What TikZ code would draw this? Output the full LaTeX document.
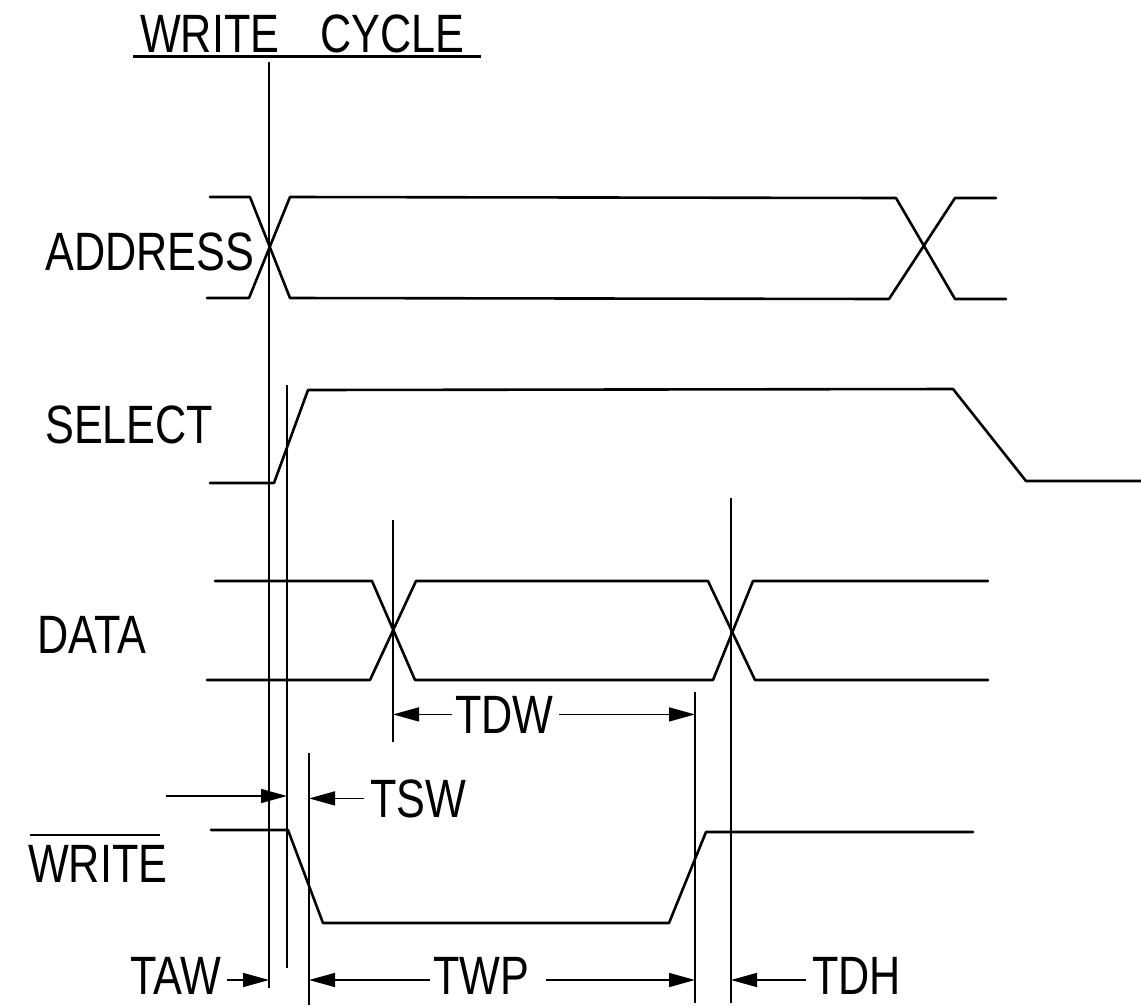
\documentclass[tikz,border=0pt]{standalone}
\usepackage{fontspec}
\setmainfont[FakeStretch=0.8]{Liberation Sans}
\usetikzlibrary{arrows.meta}
\begin{document}
\begin{tikzpicture}[x=1pt,y=-1pt,
  sig/.style={line width=2.6pt, line join=round, line cap=round},
  guide/.style={line width=1.5pt},
  dim/.style={line width=1.5pt, -{Triangle[length=26pt,width=14pt]}},
  lbl/.style={font=\fontsize{54}{54}\selectfont, inner sep=0pt, anchor=base west},
]
\useasboundingbox (0,0) rectangle (1141,1005);

% title
\node[lbl] (tw) at (140,52) {WRITE};
\node[lbl] (tc) at (320,52) {CYCLE};
\coordinate (ul1) at (133,56);
\coordinate (ul2) at (481,56);
\draw[line width=3pt] (ul1) -- (ul2);

% signal names
\node[lbl] (addr) at (45,270) {ADDRESS};
\node[lbl] (sel) at (45,443) {SELECT};
\node[lbl] (data) at (37,653) {DATA};
\node[lbl] (wr) at (28,882) {WRITE};
\coordinate (ov1) at (30,835);
\coordinate (ov2) at (160,835);
\draw[line width=2.4pt] (ov1) -- (ov2);

% vertical reference lines
\coordinate (v1t) at (269,62);  \coordinate (v1b) at (269,988);
\coordinate (v2t) at (287,385); \coordinate (v2b) at (287,968);
\coordinate (v3t) at (309,753); \coordinate (v3b) at (309,1005);
\coordinate (v4t) at (393,520); \coordinate (v4b) at (393,742);
\coordinate (v5t) at (695,692); \coordinate (v5b) at (695,1003);
\coordinate (v6t) at (731,498); \coordinate (v6b) at (731,1003);
\draw[guide] (v1t) -- (v1b);
\draw[guide] (v2t) -- (v2b);
\draw[guide] (v3t) -- (v3b);
\draw[guide] (v4t) -- (v4b);
\draw[guide] (v5t) -- (v5b);
\draw[guide] (v6t) -- (v6b);

% ADDRESS
\draw[sig] (210,197) -- (250,197) -- (290,298) -- (889,299) -- (955,198) -- (996,198);
\draw[sig] (207,298) -- (249,298) -- (290,197) -- (896,198) -- (955,299) -- (1006,299);

% SELECT
\draw[sig] (210,483) -- (274,483) -- (308,390) -- (953,389) -- (1026,481) -- (1141,481);

% DATA
\draw[sig] (215,581) -- (372,581) -- (415,680) -- (713,680) -- (753,581) -- (988,581);
\draw[sig] (207,680) -- (370,680) -- (416,581) -- (708,581) -- (755,680) -- (988,680);

% WRITE
\draw[sig] (211,830) -- (288,830) -- (323,923) -- (669,923) -- (706,832) -- (973,832);

% timing labels
\node[lbl] (tdw) at (455,733) {TDW};
\node[lbl] (tsw) at (370,817) {TSW};
\node[lbl] (taw) at (130,994) {TAW};
\node[lbl] (twp) at (433,994) {TWP};
\node[lbl] (tdh) at (812,994) {TDH};
\coordinate (bot) at (0,980);

% TDW
\draw[dim] ([xshift=-3pt]tdw.west) -- (tdw.west -| v4t);
\draw[dim] ([xshift=5pt]tdw.east) -- (tdw.east -| v5t);
% TSW
\coordinate (tswl) at (166,796);
\draw[dim] (tswl) -- (tswl -| v2t);
\draw[dim] ([xshift=-6pt]tsw.west) -- (tsw.west -| v3t);
% TAW
\draw[dim] ([xshift=5pt]taw.east |- bot) -- (v1t |- bot);
% TWP
\draw[dim] ([xshift=-3pt]twp.west |- bot) -- (v3t |- bot);
\draw[dim] ([xshift=17pt]twp.east |- bot) -- (v5t |- bot);
% TDH
\draw[dim] ([xshift=-6pt]tdh.west |- bot) -- (v6t |- bot);
\end{tikzpicture}
\end{document}
